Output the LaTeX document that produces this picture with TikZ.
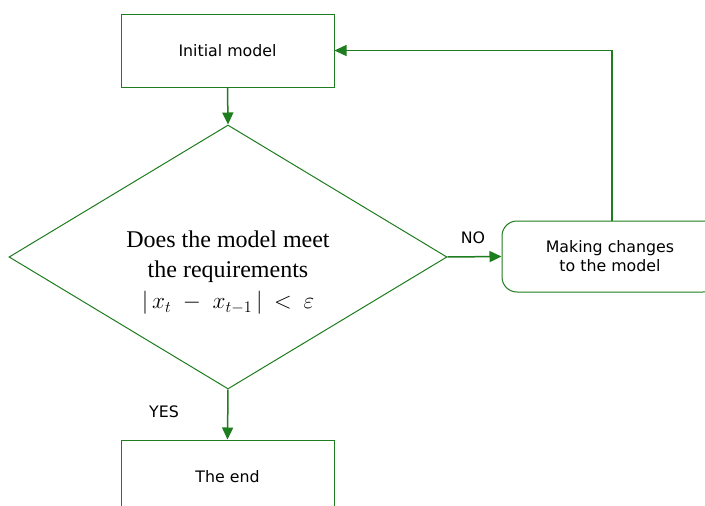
\documentclass[tikz,border=0pt]{standalone}
\usepackage{graphicx}
\usepackage{fontspec}
\setmainfont{Liberation Serif}
\setsansfont{DejaVu Sans}
\usetikzlibrary{shapes.geometric,arrows.meta}
\definecolor{flowgreen}{RGB}{30,125,30}
\tikzset{
  box/.style={draw=flowgreen, line width=1pt, minimum width=213pt, minimum height=73pt,
    inner sep=0pt, font=\sffamily\fontsize{15.8}{19}\selectfont},
  roundbox/.style={box, rounded corners=15pt, minimum width=216pt, minimum height=71pt, align=center},
  decision/.style={draw=flowgreen, line width=1pt, diamond, minimum width=438pt,
    minimum height=264pt, inner sep=0pt},
  arr/.style={draw=flowgreen, line width=1.5pt, -{Triangle[length=12pt,width=11pt]}},
  lbl/.style={font=\sffamily\fontsize{15.8}{19}\selectfont, inner sep=0pt}
}
\begin{document}
\begin{tikzpicture}[x=1pt,y=-1pt]
  \useasboundingbox (0,0) rectangle (705,506);
  \clip (0,0) rectangle (705,506);
  \fill[white] (0,0) rectangle (705,506);

  % blocks of the flowchart
  \node[box] (init) at (227.5,50.5) {Initial model};
  \node[decision] (check) at (228,257) {};
  \node[align=center, inner sep=0pt, font=\fontsize{24}{30}\selectfont] (cond) at (228,273)
    {Does the model meet\\the requirements\\[1pt]
     \scalebox{1.12}{\fontsize{20}{24}\selectfont$|\,x_t\;-\;x_{t-1}\,|\:<\:\varepsilon$}};
  \node[roundbox] (change) at (610,256.5) {Making changes\\to the model};
  \node[box, minimum height=74pt] (stop) at (227.5,477) {The end};

  % connectors
  \draw[arr] (init.south) -- (check.north);
  \draw[arr] (check.east) -- (change.west);
  \draw[arr] ([xshift=2pt]change.north) |- (init.east);
  \draw[arr] (check.south) -- (stop.north);

  % branch labels
  \node[lbl] (no) at (473,238) {NO};
  \node[lbl] (yes) at (164,412) {YES};
\end{tikzpicture}
\end{document}
